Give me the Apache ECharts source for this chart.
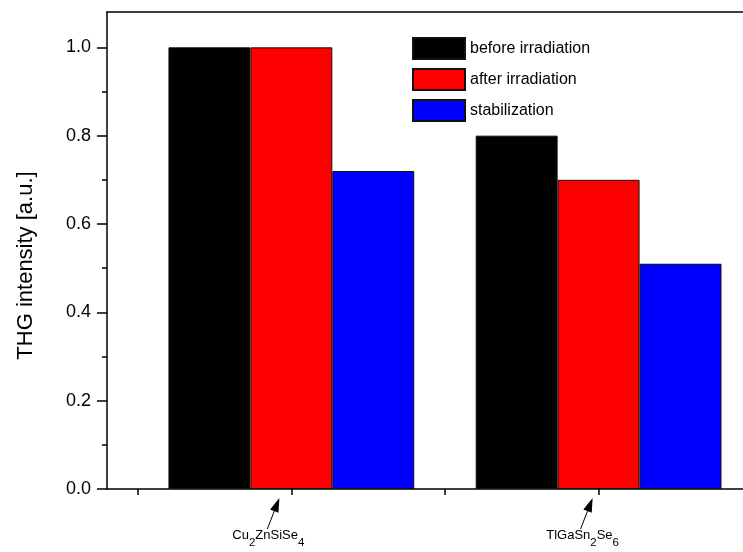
<!DOCTYPE html>
<html>
<head>
<meta charset="utf-8">
<script src="https://cdn.jsdelivr.net/npm/echarts@6/dist/echarts.min.js"></script>
<style>html,body{margin:0;padding:0;background:#fff;}#c{width:743px;height:552px;}</style>
</head>
<body>
<div id="c"></div>
<script>
const categories = ['Cu2ZnSiSe4', 'TlGaSn2Se6'];
const xPositions = [1, 2];
const seriesNames = ['before irradiation', 'after irradiation', 'stabilization'];
const beforeIrr = [1.00, 0.80];
const afterIrr = [1.00, 0.70];
const stabilization = [0.72, 0.51];
const yMajorTicks = [0, 0.2, 0.4, 0.6, 0.8, 1.0];
const yMinorTicks = [0.1, 0.3, 0.5, 0.7, 0.9];
const xTicks = [0.5, 1, 1.5, 2, 2.5];

const X_MIN = 0.4, X_MAX = 2.47, Y_MIN = 0, Y_MAX = 1.08;
const GRID = {left: 107, top: 12, right: 0, height: 477};
const FONT = '"Liberation Sans", Arial, sans-serif';
const colors = ['#000000', '#ff0000', '#0000ff'];

const unitPx = (743 - GRID.left - GRID.right) / (X_MAX - X_MIN);
const barW = unitPx * 0.8 / 3;

const labelRich = {
  n: {fontSize: 13, fontFamily: FONT, color: '#000', lineHeight: 16, verticalAlign: 'top'},
  s: {fontSize: 11.5, fontFamily: FONT, color: '#000', lineHeight: 12, padding: [8, 0, 0, 0], verticalAlign: 'top'},
  p1: {width: 46},
  p2: {width: 32}
};
function richLabel(v) {
  if (Math.abs(v - xPositions[0]) < 1e-6) return '{n|Cu}{s|2}{n|ZnSiSe}{s|4}{p1|}';
  if (Math.abs(v - xPositions[1]) < 1e-6) return '{n|TlGaSn}{s|2}{n|Se}{s|6}{p2|}';
  return '';
}

const dataSets = [beforeIrr, afterIrr, stabilization];
const series = seriesNames.map((name, i) => ({
  name: name,
  type: 'bar',
  barWidth: barW,
  barGap: '0%',
  itemStyle: {color: colors[i], borderColor: '#111', borderWidth: 1},
  emphasis: {disabled: true},
  data: xPositions.map((x, k) => [x, dataSets[i][k]])
}));

const chart = echarts.init(document.getElementById('c'), null, {renderer: 'canvas'});
chart.setOption({
  animation: false,
  backgroundColor: '#ffffff',
  grid: Object.assign({show: false, containLabel: false, outerBoundsMode: 'none'}, GRID),
  legend: {
    orient: 'vertical', left: 412, top: 37, padding: 0, itemWidth: 52, itemHeight: 21, itemGap: 8,
    icon: 'rect', selectedMode: false,
    textStyle: {fontSize: 16, fontFamily: FONT, color: '#000'},
    data: seriesNames
  },
  xAxis: [{
    type: 'value', min: X_MIN, max: X_MAX, position: 'bottom',
    axisLine: {show: true, onZero: false, lineStyle: {color: '#000', width: 1.5}},
    axisTick: {show: true, customValues: xTicks, length: 6, inside: false, lineStyle: {color: '#000', width: 1.5}},
    axisLabel: {show: true, customValues: xPositions, margin: 40, formatter: richLabel, rich: labelRich},
    splitLine: {show: false}
  }, {
    type: 'value', min: X_MIN, max: X_MAX, position: 'top',
    axisLine: {show: true, onZero: false, lineStyle: {color: '#000', width: 1.5}},
    axisTick: {show: false}, axisLabel: {show: false}, splitLine: {show: false}
  }],
  yAxis: [{
    type: 'value', min: Y_MIN, max: Y_MAX,
    name: 'THG intensity [a.u.]', nameLocation: 'middle', nameGap: 70, nameRotate: 90,
    nameTextStyle: {fontSize: 22, fontFamily: FONT, color: '#000', padding: [0, 30, 0, 0]},
    axisLine: {show: true, onZero: false, lineStyle: {color: '#000', width: 1.5}},
    axisTick: {show: true, customValues: yMajorTicks, length: 10, lineStyle: {color: '#000', width: 1.5}},
    axisLabel: {show: true, customValues: yMajorTicks, margin: 16, fontSize: 18, fontFamily: FONT, color: '#000',
      formatter: v => v.toFixed(1)},
    splitLine: {show: false}
  }, {
    type: 'value', min: Y_MIN, max: Y_MAX, position: 'left', offset: 0,
    axisLine: {show: false, onZero: false},
    axisTick: {show: true, customValues: yMinorTicks, length: 5, lineStyle: {color: '#000', width: 1.5}},
    axisLabel: {show: false},
    splitLine: {show: false}
  }],
  series: series
});

// annotation arrows from each label up to its tick
const arrowOffsets = [{tip: [-12, 9], base: [-24, 40]}, {tip: [-6, 9], base: [-18, 40]}];
const graphics = [];
xPositions.forEach((x, k) => {
  const p = chart.convertToPixel({xAxisIndex: 0, yAxisIndex: 0}, [x, 0]);
  const o = arrowOffsets[k];
  const tx = p[0] + o.tip[0], ty = p[1] + o.tip[1];
  const bx = p[0] + o.base[0], by = p[1] + o.base[1];
  const dx = tx - bx, dy = ty - by, len = Math.hypot(dx, dy);
  const ux = dx / len, uy = dy / len, nx = -uy, ny = ux;
  const hl = 14, hw = 4.5;
  const hx = tx - ux * hl, hy = ty - uy * hl;
  graphics.push({type: 'line', silent: true, shape: {x1: bx, y1: by, x2: hx, y2: hy}, style: {stroke: '#000', lineWidth: 1}});
  graphics.push({type: 'polygon', silent: true, shape: {points: [[tx, ty], [hx + nx * hw, hy + ny * hw], [hx - nx * hw, hy - ny * hw]]}, style: {fill: '#000'}});
});
chart.setOption({graphic: graphics});
</script>
</body>
</html>
